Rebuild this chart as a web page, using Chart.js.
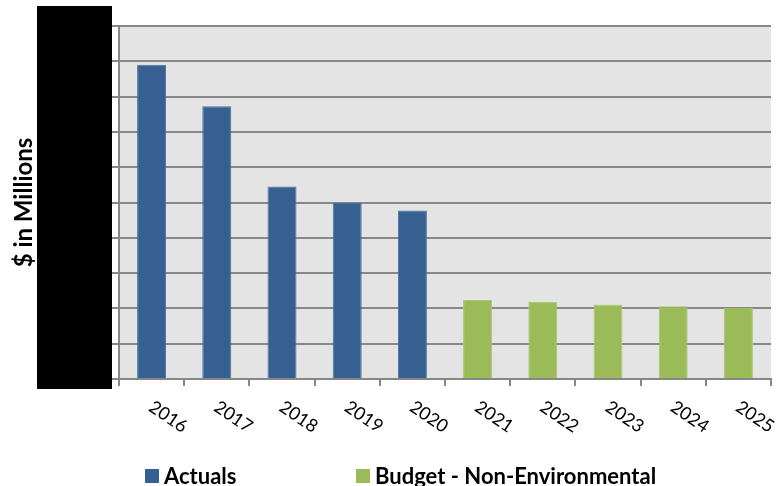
<!DOCTYPE html>
<html>
<head>
<meta charset="utf-8">
<style>
html,body{margin:0;padding:0;background:#fff;}
#wrap{width:776px;height:486px;position:relative;}
</style>
<script src="https://cdn.jsdelivr.net/npm/chart.js@4.4.1/dist/chart.umd.min.js"></script>
</head>
<body>
<div id="wrap"><canvas id="c" width="776" height="486"></canvas></div>
<script>
// Data (y-axis values are redacted in the source; values read in gridline units)
const categories = ['2016','2017','2018','2019','2020','2021','2022','2023','2024','2025'];
const actualsValues = [8.90, 7.73, 5.45, 5.00, 4.77, null, null, null, null, null];
const budgetValues  = [null, null, null, null, null, 2.24, 2.19, 2.11, 2.06, 2.02];
const yTickValues = [0,1,2,3,4,5,6,7,8,9,10];
const seriesLabels = ['Actuals', 'Budget - Non-Environmental'];
const yAxisTitle = '$ in Millions';

const BLUE = '#366092';
const GREEN = '#9bbb59';
const GRID = '#878787';

const plotBg = {
  id: 'plotBg',
  beforeDraw(chart) {
    const {ctx, chartArea: a} = chart;
    ctx.save();
    ctx.fillStyle = '#e4e4e4';
    ctx.fillRect(a.left, a.top, a.right - a.left, a.bottom - a.top);
    ctx.restore();
  }
};

const extras = {
  id: 'extras',
  afterDraw(chart) {
    const {ctx} = chart;
    const xs = chart.scales.x;
    // rotated category labels
    ctx.save();
    ctx.fillStyle = '#000';
    ctx.font = '18px Lato';
    ctx.textAlign = 'left';
    ctx.textBaseline = 'alphabetic';
    categories.forEach((lab, i) => {
      const px = xs.getPixelForValue(i);
      ctx.save();
      ctx.translate(px - 4, xs.top + 31);
      ctx.rotate(34 * Math.PI / 180);
      ctx.fillText(lab, 0, 0);
      ctx.restore();
    });
    ctx.restore();

    // legend
    ctx.save();
    ctx.font = 'bold 22px Lato';
    ctx.textAlign = 'left';
    ctx.textBaseline = 'alphabetic';
    const legendX = [145, 356];
    chart.data.datasets.forEach((ds, i) => {
      ctx.fillStyle = ds.backgroundColor;
      ctx.fillRect(legendX[i], 469, 14, 14);
      ctx.fillStyle = '#000';
      ctx.fillText(ds.label, legendX[i] + 19, 484);
    });
    ctx.restore();

    // redaction box over y tick labels
    ctx.save();
    ctx.fillStyle = '#000';
    ctx.fillRect(37, 6, 75, 383);
    ctx.restore();
  }
};

new Chart(document.getElementById('c'), {
  type: 'bar',
  data: {
    labels: categories,
    datasets: [
      { label: seriesLabels[0], data: actualsValues, backgroundColor: BLUE, borderColor: '#4d73a0', borderWidth: 1, grouped: false },
      { label: seriesLabels[1], data: budgetValues, backgroundColor: GREEN, borderColor: '#aac874', borderWidth: 1, grouped: false }
    ]
  },
  options: {
    responsive: false,
    animation: false,
    devicePixelRatio: 1,
    layout: { padding: { left: 0, right: 5, top: 26, bottom: 0 } },
    plugins: { legend: { display: false }, tooltip: { enabled: false } },
    datasets: { bar: { barPercentage: 0.445, categoryPercentage: 1 } },
    scales: {
      x: {
        offset: true,
        grid: { display: true, drawOnChartArea: false, drawTicks: true, tickLength: 7, color: GRID, lineWidth: 2, offset: true },
        border: { display: true, color: GRID, width: 2 },
        ticks: { display: false },
        afterFit(scale) { scale.height = 107; }
      },
      y: {
        min: yTickValues[0],
        max: yTickValues[yTickValues.length - 1],
        afterBuildTicks(scale) { scale.ticks = yTickValues.map(v => ({ value: v })); },
        grid: { color: GRID, lineWidth: 2, tickLength: 7, drawTicks: true },
        border: { display: true, color: GRID, width: 2 },
        ticks: { display: false },
        title: {
          display: true,
          text: yAxisTitle,
          color: '#000',
          font: { family: 'Lato', weight: 'bold', size: 24 },
          padding: { top: 10, bottom: 0 }
        },
        afterFit(scale) { scale.width = 119; }
      }
    }
  },
  plugins: [plotBg, extras]
});
</script>
</body>
</html>
